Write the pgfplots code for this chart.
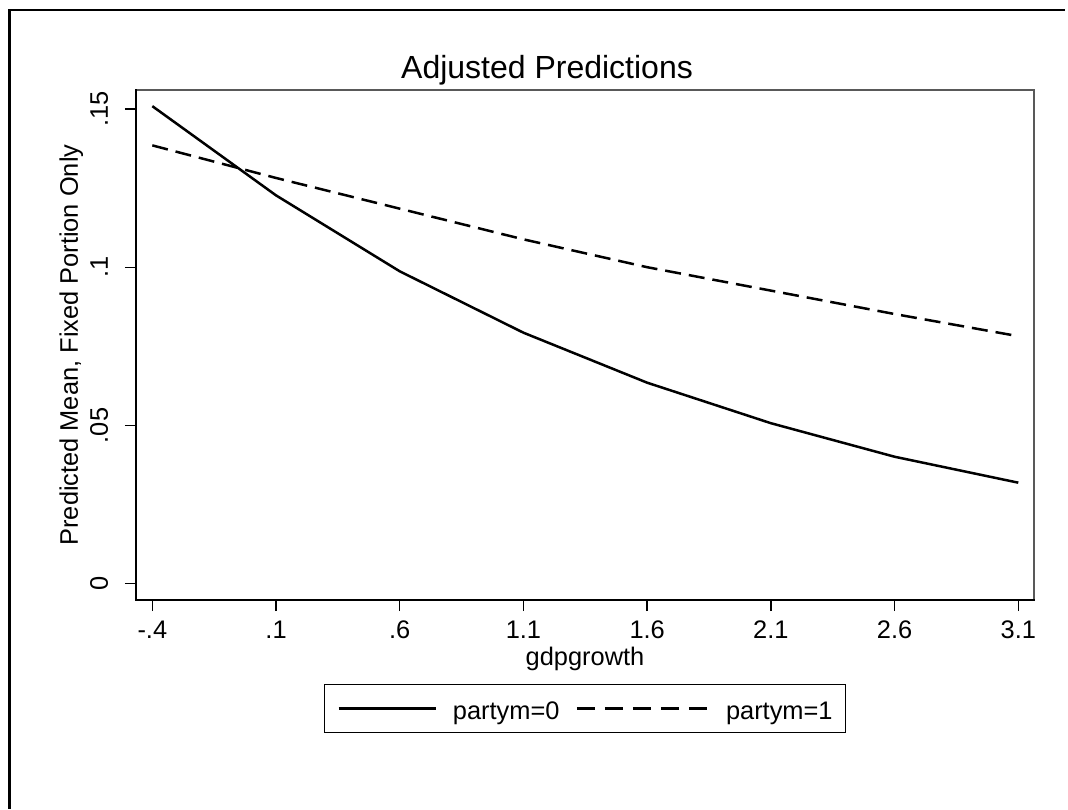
\documentclass[border=0pt]{standalone}
\usepackage{pgfplots}
\pgfplotsset{compat=1.18}
\usepackage{fontspec}
\setmainfont{Liberation Sans}
\begin{document}
\begin{tikzpicture}
\path[use as bounding box] (0,0) rectangle (534pt,-404.5pt);
\draw[line width=1.3pt, line join=miter, line cap=rect] (4.65pt,-404pt) -- (4.65pt,-4.9pt) -- (532pt,-4.9pt);
\begin{axis}[
  at={(68pt,-300pt)}, anchor=south west,
  scale only axis, width=449pt, height=255pt,
  xmin=-0.466, xmax=3.1635, ymin=-0.00518, ymax=0.156,
  clip=false,
  axis line style={draw=none},
  xtick={-0.4,0.1,0.6,1.1,1.6,2.1,2.6,3.1},
  xticklabels={-.4,.1,.6,1.1,1.6,2.1,2.6,3.1},
  ytick={0,0.05,0.1,0.15},
  yticklabels={0,.05,.1,.15},
  xtick pos=bottom, ytick pos=left,
  tick align=outside, major tick length=5.5pt,
  tick style={black, line width=0.7pt},
  ticklabel style={font=\fontsize{12.7}{15}\selectfont, inner sep=0pt},
  xticklabel style={anchor=base, yshift=-13.5pt},
  yticklabel style={xshift=-8.5pt, rotate=90, anchor=base},
  label style={font=\fontsize{12.7}{15}\selectfont, inner sep=0pt},
  xlabel={gdpgrowth},
  xlabel style={at={(axis description cs:0.5,-0.1275)}, anchor=base},
  ylabel={Predicted Mean, Fixed Portion Only},
  ylabel style={at={(axis description cs:-0.0646,0.5)}, anchor=base},
  title={Adjusted Predictions},
  every axis title shift=0pt,
  title style={at={(axis description cs:0.4577,1.0235)}, anchor=base, font=\fontsize{16}{19}\selectfont, inner sep=0pt},
  legend columns=2,
  legend style={at={(axis description cs:0.5,-0.1647)}, anchor=north,
    draw=black, line width=0.5pt, inner xsep=6.5pt, inner ysep=5.5pt,
    font=\fontsize{12.7}{15}\selectfont,
    nodes={inner sep=0pt, text height=12pt, text depth=1pt},
    column sep=0pt,
    /tikz/every odd column/.append style={column sep=8pt},
    /tikz/every even column/.append style={column sep=8pt}},
]
\addplot[black, line width=1.25pt, line join=round,
  legend image code/.code={\draw[black, line width=1.25pt] (0pt,0pt) -- (48.5pt,0pt);}]
  coordinates {(-0.4,0.1509) (0.1,0.1227) (0.6,0.0987) (1.1,0.0793) (1.6,0.0635) (2.1,0.0507) (2.6,0.0401) (3.1,0.0319)};
\addlegendentry{partym=0}
\addplot[black, line width=1.25pt, dash pattern=on 8pt off 4pt,
  legend image code/.code={\draw[black, line width=1.25pt, dash pattern=on 9pt off 5pt] (0pt,0pt) -- (66pt,0pt);}]
  coordinates {(-0.4,0.1385) (0.1,0.1282) (0.6,0.1185) (1.1,0.1088) (1.6,0.1000) (2.1,0.0926) (2.6,0.0852) (3.1,0.0782)};
\addlegendentry{partym=1}
\draw[black!65, line width=1pt] (rel axis cs:0,1) -- (rel axis cs:1,1) -- (rel axis cs:1,0);
\draw[black, line width=1.3pt, line cap=rect] (rel axis cs:0,1) -- (rel axis cs:0,0) -- (rel axis cs:1,0);
\end{axis}
\end{tikzpicture}
\end{document}
